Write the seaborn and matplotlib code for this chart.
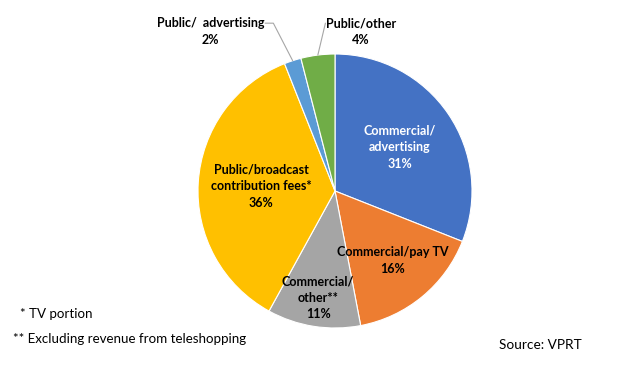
#import packages
import numpy as np
import matplotlib.pyplot as plt
import seaborn as sns

#data
segments = ["Commercial/\nadvertising", "Commercial/pay TV", "Commercial/\nother**",
            "Public/broadcast\ncontribution fees*", "Public/  advertising", "Public/other"]
shares = [31, 16, 11, 36, 2, 4]
colors = ["#4472C4", "#ED7D31", "#A5A5A5", "#FFC000", "#5B9BD5", "#70AD47"]
text_colors = ["white", "black", "black", "black", "black", "black"]
label_dist = [0.57, 0.66, 0.79, 0.54, None, None]
footnotes = ["* TV portion", "** Excluding revenue from teleshopping"]
source = "Source: VPRT"

sns.set_theme(style="white")
plt.rcParams['font.family'] = ['Lato', 'DejaVu Sans']

fig = plt.figure(figsize=(6.4, 3.66), dpi=100)
ax = fig.add_axes([(335 - 137) / 640, (366 - 328) / 366, 274 / 640, 274 / 366])

wedges, _ = ax.pie(shares, colors=colors, startangle=90, counterclock=False,
                   wedgeprops=dict(edgecolor="white", linewidth=0.8))
ax.set_xlim(-1, 1)
ax.set_ylim(-1, 1)
ax.set_aspect("equal")

#labels inside slices
for w, lab, val, tc, d in zip(wedges, segments, shares, text_colors, label_dist):
    ang = np.deg2rad((w.theta1 + w.theta2) / 2)
    if d is not None:
        ax.text(d * np.cos(ang), d * np.sin(ang), f"{lab}\n{val}%", ha="center", va="center",
                fontsize=9, fontweight="bold", color=tc, linespacing=1.45)

#small slices with leader lines
label_pos = {4: (-0.91, 1.165), 5: (0.19, 1.165)}
line_end = {4: [(-0.45, 1.225), (-0.51, 1.225)], 5: [(-0.07, 1.225)]}
for i, (tx, ty) in label_pos.items():
    w = wedges[i]
    ang = np.deg2rad((w.theta1 + w.theta2) / 2)
    xs = [np.cos(ang)] + [p[0] for p in line_end[i]]
    ys = [np.sin(ang)] + [p[1] for p in line_end[i]]
    ax.plot(xs, ys, color="#A6A6A6", lw=0.8, clip_on=False)
    ax.text(tx, ty, f"{segments[i]}\n{shares[i]}%", ha="center", va="center",
            fontsize=9, fontweight="bold", color="black", linespacing=1.45, clip_on=False)

#footnotes and source
fig.text(20 / 640, 1 - 314 / 366, footnotes[0], fontsize=9.6, va="center", ha="left", color="black")
fig.text(13 / 640, 1 - 339 / 366, footnotes[1], fontsize=9.6, va="center", ha="left", color="black")
fig.text(499 / 640, 1 - 345 / 366, source, fontsize=9.8, va="center", ha="left", color="black")

plt.savefig("out.png", dpi=100)
